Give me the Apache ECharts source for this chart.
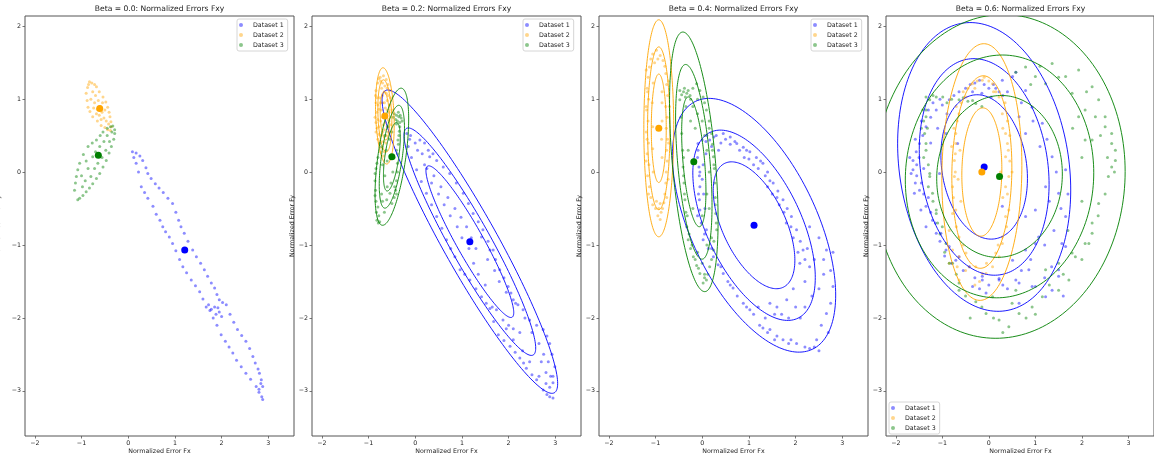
<!DOCTYPE html>
<html><head><meta charset="utf-8">
<script src="https://cdn.jsdelivr.net/npm/echarts@6/dist/echarts.min.js"></script>
<style>html,body{margin:0;padding:0;background:#fff}#c{width:1154px;height:460px}</style>
</head><body><div id="c"></div>
<script>
// ---------- data ----------
const titles = ['Beta = 0.0: Normalized Errors Fxy','Beta = 0.2: Normalized Errors Fxy','Beta = 0.4: Normalized Errors Fxy','Beta = 0.6: Normalized Errors Fxy'];
const seriesNames = ['Dataset 1','Dataset 2','Dataset 3'];
const xTicks = [-2,-1,0,1,2,3];
const yTicks = [-3,-2,-1,0,1,2];
const xRange = [-2.21, 3.55];
const yRange = [-3.62, 2.14];
const ellipseScales = [2,3,4];

// Beta 0.0
const p1Blue = [[0.09,0.28],[0.12,0.2],[0.17,0.12],[0.22,0.0],[0.28,-0.2],[0.35,-0.28],[0.42,-0.36],[0.53,-0.47],[0.6,-0.58],[0.68,-0.66],[0.74,-0.75],[0.8,-0.82],[0.88,-0.89],[0.95,-0.98],[1.02,-1.08],[1.1,-1.2],[1.17,-1.3],[1.25,-1.38],[1.35,-1.48],[1.44,-1.56],[1.53,-1.64],[1.6,-1.74],[1.67,-1.85],[1.75,-1.9],[1.82,-2.0],[1.9,-2.1],[1.99,-2.23],[2.08,-2.32],[2.16,-2.4],[2.24,-2.48],[2.32,-2.58],[2.42,-2.67],[2.52,-2.76],[2.62,-2.84],[2.74,-2.94],[2.8,-3.02],[2.88,-3.12],[2.86,-3.08],
 [0.17,0.26],[0.25,0.22],[0.31,0.16],[0.38,0.06],[0.42,-0.02],[0.49,-0.09],[0.58,-0.16],[0.66,-0.22],[0.75,-0.28],[0.85,-0.36],[0.95,-0.43],[1.02,-0.55],[1.08,-0.66],[1.13,-0.75],[1.2,-0.84],[1.28,-0.95],[1.38,-1.07],[1.46,-1.16],[1.55,-1.25],[1.63,-1.34],[1.7,-1.43],[1.78,-1.52],[1.85,-1.59],[1.9,-1.68],[1.95,-1.75],[2.02,-1.79],[2.1,-1.82],[1.85,-1.85],[1.88,-1.95],[1.95,-1.92],[2.0,-1.98],[2.18,-1.95],[2.26,-2.06],[2.34,-2.16],[2.43,-2.24],[2.52,-2.32],[2.6,-2.42],[2.67,-2.53],[2.72,-2.62],[2.78,-2.7],[2.81,-2.76],[2.85,-2.85],[2.88,-2.94],[2.84,-2.9],[2.8,-2.98],[1.72,-1.82],[1.78,-1.88],[1.92,-1.86]];
const p1Orange = [[-0.83,1.24],[-0.78,1.22],[-0.72,1.2],[-0.68,1.17],[-0.62,1.1],[-0.54,1.03],[-0.48,0.96],[-0.44,0.89],[-0.41,0.82],[-0.39,0.76],[-0.37,0.69],[-0.36,0.62],[-0.38,0.57],[-0.44,0.58],[-0.5,0.61],[-0.58,0.64],[-0.66,0.7],[-0.76,0.76],[-0.82,0.83],[-0.86,0.89],[-0.88,0.98],[-0.9,1.08],[-0.87,1.16],[-0.85,1.2],
 [-0.7,1.05],[-0.64,0.98],[-0.6,0.9],[-0.56,0.82],[-0.52,0.74],[-0.72,0.95],[-0.66,0.86],[-0.62,0.78],[-0.58,0.72],[-0.76,1.1],[-0.8,1.0],[-0.74,0.88],[-0.68,0.8],[-0.5,0.85],[-0.55,0.95],[-0.47,0.7],[-0.42,0.66]];
const p1Green = [[-0.33,0.63],[-0.29,0.58],[-0.29,0.53],[-0.31,0.45],[-0.36,0.35],[-0.41,0.26],[-0.47,0.16],[-0.54,0.07],[-0.61,-0.02],[-0.68,-0.09],[-0.76,-0.16],[-0.83,-0.22],[-0.9,-0.27],[-0.97,-0.32],[-1.04,-0.36],[-1.08,-0.38],
 [-1.15,-0.25],[-1.13,-0.15],[-1.11,-0.06],[-1.08,0.03],[-1.04,0.12],[-0.96,0.24],[-0.86,0.35],[-0.77,0.4],[-0.68,0.44],[-0.6,0.5],[-0.54,0.55],[-0.45,0.6],[-0.38,0.62],
 [-0.76,0.21],[-0.7,0.28],[-0.61,0.35],[-0.52,0.42],[-0.45,0.5],[-0.8,-0.06],[-0.86,0.05],[-0.72,0.05],[-0.65,0.12],[-0.56,0.2],[-0.48,0.3],[-0.4,0.42],[-0.92,-0.12],[-0.98,-0.2],[-1.0,-0.05],[-0.9,0.15],[-0.35,0.55]];

// Beta 0.2
const p2Blue = [[-0.18,0.53],[-0.15,0.35],[-0.08,0.2],[0.03,0.03],[0.13,-0.13],[0.24,-0.29],[0.35,-0.45],[0.46,-0.61],[0.57,-0.77],[0.67,-0.93],[0.76,-1.05],[0.85,-1.16],[0.96,-1.34],[1.06,-1.4],[1.17,-1.48],[1.3,-1.6],[1.42,-1.71],[1.52,-1.8],[1.6,-1.87],[1.74,-1.89],[1.68,-2.05],[1.78,-2.23],[1.9,-2.31],[2.03,-2.39],[2.14,-2.47],[2.24,-2.55],[2.32,-2.62],[2.38,-2.69],[2.5,-2.78],[2.6,-2.85],[2.74,-2.99],[2.82,-3.05],[2.88,-3.08],[2.95,-3.1],
 [-0.1,0.5],[0.1,0.44],[0.28,0.3],[0.46,0.16],[0.6,0.07],[0.74,-0.02],[0.88,-0.15],[1.03,-0.29],[1.14,-0.43],[1.24,-0.57],[1.35,-0.68],[1.45,-0.79],[1.42,-0.89],[1.56,-0.95],[1.67,-1.07],[1.6,-1.07],[1.72,-1.2],[1.81,-1.34],[1.9,-1.45],[1.99,-1.57],[2.05,-1.66],[2.1,-1.75],[2.2,-1.82],[2.31,-1.89],[2.45,-2.03],[2.6,-2.1],[2.74,-2.16],[2.82,-2.25],[2.88,-2.35],[2.93,-2.5],[2.99,-2.67],[2.95,-2.8],[2.95,-2.89],[2.88,-2.95],
 [0.05,0.3],[0.2,0.1],[0.31,0.21],[0.4,-0.05],[0.55,-0.2],[0.7,-0.35],[0.85,-0.5],[0.98,-0.62],[1.1,-0.75],[1.2,-0.9],[1.3,-1.05],[1.88,-2.03],[2.0,-2.1],[2.1,-2.15],[2.24,-2.2],[1.95,-2.15],[2.7,-2.6],[2.8,-2.75],
 [0.0,0.4],[0.15,0.25],[0.25,0.05],[0.35,-0.15],[0.5,-0.3],[0.62,-0.45],[0.75,-0.6],[0.9,-0.75],[1.0,-0.9],[1.15,-1.05],[1.25,-1.25],[1.35,-1.4],[1.5,-1.55],[1.55,-1.2],[1.7,-1.35],[1.8,-1.5],[1.95,-1.65],[2.15,-1.8],[2.35,-2.0],[2.5,-2.2],[2.65,-2.35],[2.75,-2.5],[2.85,-2.6],[2.9,-2.8],[2.1,-2.3],[2.3,-2.45],[2.45,-2.6],[2.65,-2.8],[2.8,-2.9],[1.65,-1.85],[-0.12,0.45],[0.38,0.25],[0.2,0.4]];
const p2Orange = [[-0.75,1.3],[-0.68,1.32],[-0.62,1.27],[-0.8,1.22],[-0.58,1.2],[-0.84,1.12],[-0.54,1.12],[-0.72,1.15],[-0.65,1.18],[-0.82,1.02],[-0.53,1.02],[-0.7,1.05],[-0.62,1.08],[-0.8,0.92],[-0.55,0.92],[-0.75,0.95],[-0.6,0.98],[-0.82,0.82],[-0.56,0.82],[-0.72,0.85],[-0.64,0.88],[-0.8,0.72],[-0.58,0.72],[-0.7,0.75],[-0.78,0.62],[-0.6,0.62],[-0.68,0.65],[-0.78,0.52],[-0.62,0.5],[-0.7,0.55],[-0.76,0.42],[-0.63,0.4],[-0.72,0.33],[-0.66,0.28],[-0.86,0.75],[-0.84,0.55],[-0.5,0.85],[-0.52,0.65],[-0.68,0.22],[-0.74,1.25],[-0.66,1.1],[-0.7,0.95],[-0.62,0.78],[-0.66,0.58],
 [-0.78,1.28],[-0.7,1.22],[-0.6,1.15],[-0.85,1.05],[-0.76,1.02],[-0.58,1.05],[-0.84,0.95],[-0.66,0.95],[-0.78,0.86],[-0.6,0.85],[-0.84,0.68],[-0.74,0.7],[-0.56,0.7],[-0.82,0.6],[-0.64,0.68],[-0.74,0.5],[-0.58,0.55],[-0.8,0.45],[-0.68,0.42],[-0.74,0.28]];
const p2Green = [[-0.45,0.8],[-0.4,0.78],[-0.35,0.76],[-0.3,0.74],[-0.42,0.72],[-0.33,0.68],[-0.38,0.7],[-0.28,0.7],[-0.47,0.75],
 [-0.33,0.62],[-0.35,0.5],[-0.36,0.38],[-0.38,0.25],[-0.38,0.12],[-0.38,0.0],[-0.4,-0.12],[-0.42,-0.25],[-0.45,-0.35],[-0.5,-0.43],
 [-0.72,0.35],[-0.76,0.39],[-0.8,0.2],[-0.84,0.05],[-0.86,-0.02],[-0.86,-0.12],[-0.85,-0.25],[-0.84,-0.4],[-0.83,-0.55],[-0.82,-0.66],[-0.79,-0.7],[-0.76,-0.68],
 [-0.61,-0.38],[-0.54,-0.29],[-0.6,-0.2],[-0.65,-0.05],[-0.7,0.1],[-0.62,0.3],[-0.55,0.45],[-0.5,0.55],[-0.58,0.62],[-0.65,0.5],[-0.7,-0.4],[-0.66,-0.55],[-0.72,-0.3],[-0.48,0.0],[-0.45,0.2],[-0.52,-0.15],[-0.6,0.15],
 [-0.36,0.82],[-0.32,0.78],[-0.4,0.66],[-0.34,0.56],[-0.37,0.44],[-0.4,0.3],[-0.82,0.12],[-0.86,-0.32],[-0.8,-0.48],[-0.78,-0.6],[-0.4,-0.3],[-0.44,-0.2]];

// Beta 0.4
const p3Blue = [[-0.09,0.39],[0.0,0.44],[0.08,0.42],[0.16,0.44],[0.3,0.5],[0.45,0.53],[0.6,0.48],[0.74,0.39],[0.88,0.34],[1.02,0.28],[1.16,0.2],[1.3,0.12],[1.4,0.0],[1.52,-0.15],[1.62,-0.26],[1.73,-0.38],[1.82,-0.5],[1.91,-0.61],[2.02,-0.79],[2.1,-0.95],[2.16,-1.07],[2.09,-1.25],[2.3,-1.3],
 [0.2,0.35],[0.4,0.4],[0.6,0.38],[0.8,0.3],[1.0,0.18],[1.2,0.05],[1.35,-0.05],[1.5,-0.3],[1.65,-0.45],[1.8,-0.7],[1.95,-0.9],[0.35,0.3],[0.9,0.2],[1.1,0.1],[1.45,-0.12],
 [2.66,-1.07],[2.5,-0.9],[2.3,-0.75],[2.4,-1.2],[2.6,-1.4],[2.8,-1.57],[2.75,-1.8],[2.66,-1.94],[2.5,-1.6],[2.2,-1.5],[2.35,-1.7],[2.55,-2.1],[2.45,-2.3],[2.3,-2.42],[2.4,-2.4],[2.02,-2.35],[1.9,-2.3],[1.73,-2.3],[1.6,-2.25],[1.45,-2.16],[1.23,-2.1],[1.3,-2.14],[2.1,-2.0],[2.2,-1.85],
 [1.02,-1.89],[1.2,-1.85],[1.45,-1.8],[1.6,-1.85],[1.81,-1.75],[1.95,-1.6],[0.88,-1.8],[0.66,-1.59],[0.55,-1.5],[0.45,-1.39],[0.34,-1.27],[0.24,-1.16],[0.13,-1.05],[0.02,-0.93],[0.09,-0.79],[-0.02,-0.7],[-0.05,-0.52],[-0.06,-0.38],[-0.05,-0.2],[-0.06,-0.05],[-0.07,0.07],[-0.1,0.2],[-0.09,0.3],[0.02,0.1],[0.0,-0.1],[0.03,-0.3],
 [0.1,0.5],[0.25,0.48],[0.5,0.45],[0.7,0.42],[0.95,0.3],[1.25,0.15],[1.4,-0.2],[1.6,-0.35],[1.75,-0.55],[1.9,-0.75],[2.05,-1.1],[2.2,-1.2],[2.25,-1.05],[-0.1,-0.6],[0.05,-0.85],[0.2,-1.05],[0.4,-1.3],[0.6,-1.55],[0.75,-1.7],[0.95,-1.85],[1.1,-1.95],[1.35,-2.0],[1.55,-1.95],[1.7,-1.95],[1.85,-2.0],[2.0,-1.85],[2.6,-1.2],[2.75,-1.35],[2.8,-1.1],[2.7,-2.2],[2.5,-2.45],[2.2,-2.4],[1.85,-2.35],[1.55,-2.3],[1.4,-2.2],[-0.05,0.0],[-0.08,-0.3],[0.06,-0.5],[0.08,0.25]];
const p3Orange = [[-1.06,1.62],[-0.98,1.67],[-0.9,1.6],[-0.84,1.53],[-1.1,1.55],[-0.95,1.55],[-1.02,1.5],[-0.8,1.45],[-1.13,1.44],
 [-1.16,1.3],[-1.18,1.15],[-1.15,1.0],[-1.19,0.85],[-1.16,0.7],[-1.2,0.55],[-1.15,0.4],[-1.18,0.25],[-1.14,0.1],[-1.17,-0.05],[-1.13,-0.2],[-1.1,-0.35],[-1.06,-0.45],[-1.05,1.22],[-1.06,0.62],[-1.05,0.0],[-1.07,0.95],[-1.06,0.32],
 [-0.78,1.35],[-0.76,1.2],[-0.74,1.05],[-0.78,0.9],[-0.75,0.75],[-0.77,0.6],[-0.74,0.45],[-0.76,0.3],[-0.75,0.15],[-0.77,0.0],[-0.78,-0.15],[-0.8,-0.3],[-0.82,-0.42],[-0.86,1.1],[-0.86,0.7],[-0.86,0.2],[-0.86,0.95],[-0.87,0.45],
 [-0.9,-0.43],[-0.93,-0.5],[-0.88,-0.55],[-0.95,-0.6],[-0.9,-0.65],[-0.85,-0.5],[-1.0,-0.5],
 [-1.2,1.4],[-1.17,1.1],[-1.2,0.9],[-1.18,0.45],[-1.2,0.15],[-1.15,-0.3],[-0.72,1.25],[-0.7,0.9],[-0.72,0.4],[-0.73,-0.1],[-0.76,-0.35],[-0.98,-0.4]];
const p3Green = [[-0.48,1.12],[-0.4,1.1],[-0.33,1.08],[-0.26,1.05],[-0.36,1.03],[-0.44,1.06],[-0.3,1.12],[-0.2,1.15],[-0.12,1.21],[-0.05,1.12],[0.02,1.03],[-0.38,1.15],
 [0.09,0.85],[0.15,0.7],[0.2,0.53],[0.22,0.38],[0.24,0.21],[0.26,0.05],[0.27,-0.15],[0.28,-0.35],[0.29,-0.57],[0.31,-0.79],[0.24,-1.07],[0.16,-1.3],[0.09,-1.48],[0.2,-0.9],[0.3,-0.7],
 [-0.48,0.99],[-0.46,0.75],[-0.44,0.53],[-0.42,0.3],[-0.41,0.07],[-0.39,-0.15],[-0.37,-0.38],[-0.35,-0.55],[-0.33,-0.75],[-0.3,-0.93],[-0.25,-1.05],[-0.19,-1.16],[-0.12,-1.28],[-0.05,-1.39],[0.02,-1.52],[0.05,-1.45],
 [-0.2,0.9],[-0.1,0.8],[0.0,0.7],[0.05,0.5],[-0.25,0.7],[-0.15,0.6],[0.1,0.3],[0.15,0.0],[0.1,-0.3],[-0.2,-0.5],[0.0,-0.6],[0.1,-1.0],[-0.1,-1.1],[0.0,-1.25],[0.15,-0.5],[-0.3,0.3],
 [-0.35,0.9],[-0.25,1.0],[-0.1,1.0],[0.05,0.95],[-0.4,0.2],[-0.4,-0.05],[-0.38,-0.3],[-0.32,-0.6],[-0.28,-0.85],[-0.22,-1.0],[-0.15,-1.2],[-0.08,-1.32],[0.2,-1.2],[0.25,-0.95],[0.28,-0.45],[0.25,0.1],[0.22,0.3],[0.15,0.6],[0.05,-1.4],[0.12,-1.4]];

// Beta 0.6
const p4Blue = [[-0.64,1.1],[-0.5,1.15],[-0.4,1.2],[-0.3,1.22],[-0.2,1.26],[-0.1,1.2],[0.0,1.15],[0.1,1.2],[0.22,1.1],[0.3,1.05],[0.4,1.1],[-0.15,1.08],[0.05,1.03],[-0.35,1.1],[0.15,1.15],[0.58,1.37],[0.29,1.26],[0.79,1.12],[0.93,0.89],[0.51,1.31],[1.15,0.67],[0.65,0.76],[0.79,0.53],
 [-0.85,0.99],[-1.0,0.92],[-1.13,0.85],[-1.25,0.75],[-1.35,0.62],[-1.42,0.5],[-1.49,0.39],[-1.56,0.28],[-1.63,0.16],[-1.67,-0.02],[-1.63,0.03],[-1.6,-0.29],[-1.49,-0.25],[-1.46,-0.52],[-1.35,-0.47],[-1.35,-0.75],[-1.21,-0.66],[-1.13,-0.84],[-1.03,-0.84],[-0.92,-1.07],[-0.85,-1.02],[-0.71,-1.21],[-0.64,-1.16],[-0.67,0.39],[-1.55,0.1],[-1.7,0.2],[-1.58,-0.15],
 [-0.42,-1.3],[-0.35,-1.57],[-0.14,-1.43],[-0.14,-1.48],[-0.06,-1.66],[0.22,-1.48],[0.22,-1.46],[0.58,-1.48],[0.65,-1.52],[0.65,-1.8],[0.93,-1.57],[1.0,-1.57],[1.22,-1.71],[1.36,-1.62],[0.4,-1.6],[0.86,-1.34],[0.51,-1.21],
 [1.5,-1.43],[1.5,-1.34],[1.57,-0.98],[1.65,-1.02],[1.65,-0.61],[1.5,-0.29],[1.22,-0.2],[1.0,-0.52],[1.07,-0.89],[1.36,0.21],[1.65,0.03],[0.79,-1.07],[1.0,-0.98],[1.3,-0.4],[1.45,0.0],
 [-0.92,0.53],[-1.06,-0.02],[0.29,-0.47],[0.79,-0.61],
 [-1.5,0.2],[-1.4,0.05],[-1.55,-0.05],[-1.45,-0.15],[-1.3,-0.35],[-1.4,-0.3],[-1.25,-0.55],[-1.15,-0.7],[-1.05,-0.95],[-0.95,-1.15],[-0.8,-1.25],[-0.55,-1.35],[-0.3,-1.45],[-1.58,0.45],[-1.45,0.7],[-1.3,0.85],[-1.2,0.95],[-1.05,1.0],[-0.75,1.05],[-0.9,0.8],[-1.1,0.6],[-1.25,0.4],[1.2,-1.45],[1.35,-1.3],[1.4,-0.8],[1.55,-0.5],[1.2,-1.0],[0.9,-1.2],[0.7,-1.35],[0.3,-1.55],[0.0,-1.55],[-0.2,-1.6],[1.6,-1.7],[1.7,-0.3],[1.1,0.35],[0.95,0.7],[0.7,0.95],[1.25,0.45]];
const p4Orange = [[-0.14,1.26],[-0.35,1.21],[0.08,1.21],[-0.25,1.25],[0.0,1.25],[-0.49,1.03],[0.22,1.03],[-0.64,0.8],[0.29,0.8],[-0.71,0.53],[0.36,0.53],[-0.74,0.16],[0.36,0.21],[-0.78,-0.2],[0.36,-0.2],[-0.78,-0.57],[0.36,-0.61],[-0.71,0.39],[0.4,0.39],[-0.74,-0.06],[0.43,-0.06],[-0.71,-0.52],[0.43,-0.52],[-0.64,-0.89],[0.29,-0.89],[-0.49,-1.11],[0.15,-1.11],[-0.28,-1.3],[-0.06,-1.39],[-0.78,-1.07],[-0.64,-1.16],[-0.42,-1.3],[-0.14,-1.39],[0.08,-1.3],[0.22,-1.16],[0.29,-0.98],[-0.64,-1.48],[-0.85,-1.25],[-0.6,0.95],[-0.68,0.7],[-0.62,0.3],[-0.66,-0.1],[-0.6,-0.4],[0.3,0.6],[0.25,0.0],[0.3,-0.35],[-0.55,1.1],[-0.72,0.0],[-0.8,0.35],[0.45,0.15],[-0.1,1.3],[0.15,1.1],
 [-0.7,0.9],[-0.75,0.6],[-0.72,0.25],[-0.76,-0.35],[-0.7,-0.75],[-0.55,-1.0],[0.35,0.95],[0.4,0.7],[0.42,0.3],[0.4,-0.3],[0.38,-0.75],[0.2,-1.0],[-0.3,1.15],[0.1,1.1],[-0.45,1.15],[-0.2,-1.5],[-0.5,-1.35],[-0.3,-1.55],[-0.05,-1.25],[0.5,0.0],[0.45,0.5],[-0.85,-0.8],[-0.68,-1.3]];
const p4Green = [[-1.27,0.99],[-1.42,0.85],[-1.35,1.03],[-0.99,1.03],[-0.64,0.99],[-0.28,0.94],[-1.13,1.03],[-0.8,1.0],[-0.45,0.97],[-1.35,0.76],[-1.38,0.53],[-1.35,0.3],[-1.27,-0.02],[-1.21,-0.29],[-1.13,-0.57],[-1.35,0.85],[-1.35,0.39],[-1.27,-0.06],[-1.13,-0.52],[-0.92,-0.98],[-0.78,-1.25],[-0.64,-1.52],[-1.0,-0.75],[-0.85,-1.25],[-0.64,-1.62],[-0.28,-1.78],[-0.06,-1.94],[0.22,-2.03],[0.43,-2.12],[0.65,-1.94],[0.93,-1.85],[1.15,-1.71],[1.5,-1.62],[1.72,-1.48],[1.5,-1.25],[1.86,-1.16],[2.15,-0.98],[2.22,-0.84],[1.22,-1.34],[0.58,-1.62],[0.08,-1.71],[2.57,-0.06],[2.72,0.16],[2.64,0.39],[2.5,0.62],[2.36,-0.43],[2.22,-0.7],[2.07,-0.98],[1.79,-1.11],[2.29,0.76],[2.07,0.44],[1.93,0.76],[0.58,1.37],[0.79,1.44],[1.0,1.31],[1.36,1.49],[1.65,1.31],[1.93,1.4],[2.22,1.17],[2.36,0.99],[2.5,0.76],[2.64,0.53],[1.22,1.21],[1.79,1.08],[2.07,0.85],[2.72,0.3],[2.64,0.07],[2.22,0.44],[-1.45,0.6],[-1.3,0.1],[-0.4,-2.0],[0.3,-2.2],[1.0,-1.95],
 [-1.4,0.7],[-1.32,0.6],[-1.4,0.2],[-1.3,-0.2],[-1.2,-0.4],[-1.1,-0.7],[-1.05,-0.85],[-0.95,-1.1],[-0.7,-1.4],[-0.5,-1.7],[-0.15,-1.85],[0.1,-2.0],[0.5,-1.8],[0.8,-2.0],[1.3,-1.55],[1.6,-1.4],[2.0,-1.2],[2.35,-0.6],[2.5,-0.3],[2.7,0.0],[2.55,0.2],[2.4,0.5],[2.0,0.2],[1.8,0.6],[2.1,1.1],[1.5,1.3],[1.1,1.45],[0.9,1.2],[2.0,-0.4],[1.7,-0.8],[-1.2,1.05],[-0.9,0.95],[-0.55,1.02],[-0.35,0.98],[-0.15,0.9]];

// means per panel: [blue, orange, green]
const meansP1 = [[1.21,-1.07],[-0.61,0.87],[-0.64,0.23]];
const meansP2 = [[1.17,-0.955],[-0.65,0.77],[-0.50,0.21]];
const meansP3 = [[1.11,-0.73],[-0.93,0.60],[-0.18,0.14]];
const meansP4 = [[-0.10,0.07],[-0.15,0.0],[0.23,-0.06]];

// ellipse spread per panel: [sx, sy, rho] for [blue, orange, green]; Beta 0.0 has none
const spreadP2 = [[0.47,0.52,-0.935],[0.05,0.165,-0.2],[0.09,0.235,0.55]];
const spreadP3 = [[0.437,0.435,-0.55],[0.08,0.372,0.0],[0.13,0.445,-0.45]];
const spreadP4 = [[0.465,0.495,-0.16],[0.215,0.44,0.05],[0.675,0.555,0.03]];

// ---------- chart ----------
const colors = ['#0000ff','#ffa500','#008000'];
const FONT = 'DejaVu Sans';
const points = [[p1Blue,p1Orange,p1Green],[p2Blue,p2Orange,p2Green],[p3Blue,p3Orange,p3Green],[p4Blue,p4Orange,p4Green]];
const means = [meansP1, meansP2, meansP3, meansP4];
const spreads = [null, spreadP2, spreadP3, spreadP4];

const gridLeft = [25, 312, 599, 886], gridTop = 16, gridW = 269, gridH = 420;
const legendPos = [{left:237, top:19},{left:523, top:19},{left:811, top:19},{left:889, top:402}];
const fmt = v => (v < 0 ? '\u2212' + Math.abs(v) : String(v));

const grid = [], xAxis = [], yAxis = [], series = [], legend = [], graphic = [];
for (let i = 0; i < 4; i++) {
  grid.push({left: gridLeft[i], top: gridTop, width: gridW, height: gridH, show: true, borderColor: '#555', borderWidth: 1, backgroundColor: 'transparent'});
  xAxis.push({type:'value', gridIndex:i, min:xRange[0], max:xRange[1], position:'bottom',
    axisLine:{show:false, onZero:false}, splitLine:{show:false},
    axisTick:{show:true, length:2.5, lineStyle:{color:'#555', width:0.8}, customValues:xTicks},
    axisLabel:{customValues:xTicks, formatter:fmt, fontSize:6.3, fontFamily:FONT, color:'#222', margin:4}});
  yAxis.push({type:'value', gridIndex:i, min:yRange[0], max:yRange[1], position:'left',
    axisLine:{show:false, onZero:false}, splitLine:{show:false},
    axisTick:{show:true, length:2.5, lineStyle:{color:'#555', width:0.8}, customValues:yTicks},
    axisLabel:{customValues:yTicks, formatter:fmt, fontSize:6.3, fontFamily:FONT, color:'#222', margin:4}});
  for (let d = 0; d < 3; d++) {
    series.push({type:'scatter', name:seriesNames[d], xAxisIndex:i, yAxisIndex:i, data:points[i][d],
      symbolSize:3, itemStyle:{color:colors[d], opacity:0.45}, z:2, silent:true, animation:false});
  }
  if (spreads[i]) {
    for (let d = 0; d < 3; d++) {
      const m = means[i][d], s = spreads[i][d];
      const ed = ellipseScales.map(k => [m[0], m[1], s[0], s[1], s[2], k]);
      const col = colors[d];
      series.push({type:'custom', name:'ell'+i+d, xAxisIndex:i, yAxisIndex:i, data:ed, z:3, silent:true, animation:false,
        renderItem:(params, api) => {
          const cx=api.value(0), cy=api.value(1), sx=api.value(2), sy=api.value(3), r=api.value(4), k=api.value(5);
          const q = Math.sqrt(1 - r*r), pts = [];
          for (let j = 0; j <= 180; j++) {
            const t = j / 180 * 2 * Math.PI;
            pts.push(api.coord([cx + k*sx*Math.cos(t), cy + k*sy*(r*Math.cos(t) + q*Math.sin(t))]));
          }
          const cs = params.coordSys;
          return {type:'polyline', shape:{points:pts}, style:{stroke:col, lineWidth:0.9, fill:'none'},
            clipPath:{type:'rect', shape:{x:cs.x, y:cs.y, width:cs.width, height:cs.height}}};
        }});
    }
  }
  for (let d = 0; d < 3; d++) {
    series.push({type:'scatter', name:'mean'+i+d, xAxisIndex:i, yAxisIndex:i, data:[means[i][d]],
      symbolSize:7, itemStyle:{color:colors[d], opacity:1}, z:4, silent:true, animation:false});
  }
  legend.push({data:seriesNames, orient:'vertical', left:legendPos[i].left, top:legendPos[i].top,
    icon:'circle', itemWidth:14, itemHeight:4, itemGap:2, padding:[2,4,2,2], selectedMode:false,
    borderColor:'#cccccc', borderWidth:0.8, borderRadius:2, backgroundColor:'rgba(255,255,255,0.8)',
    textStyle:{fontSize:6.3, fontFamily:FONT, color:'#222', lineHeight:8}});
  const cxp = gridLeft[i] + gridW/2;
  graphic.push({type:'text', x:cxp, y:9.5, style:{text:titles[i], fontSize:7.6, fontFamily:FONT, fill:'#222', align:'center', verticalAlign:'middle'}});
  graphic.push({type:'text', x:cxp, y:451.5, style:{text:'Normalized Error Fx', fontSize:6.3, fontFamily:FONT, fill:'#222', align:'center', verticalAlign:'middle'}});
  graphic.push({type:'text', x:(i===0 ? -1.5 : gridLeft[i]-19.5), y:226, rotation:Math.PI/2, style:{text:'Normalized Error Fy', fontSize:6.3, fontFamily:FONT, fill:'#222', align:'center', verticalAlign:'middle'}});
}

const chart = echarts.init(document.getElementById('c'), null, {renderer:'canvas'});
chart.setOption({backgroundColor:'#fff', animation:false, grid, xAxis, yAxis, series, legend, graphic});
</script></body></html>
